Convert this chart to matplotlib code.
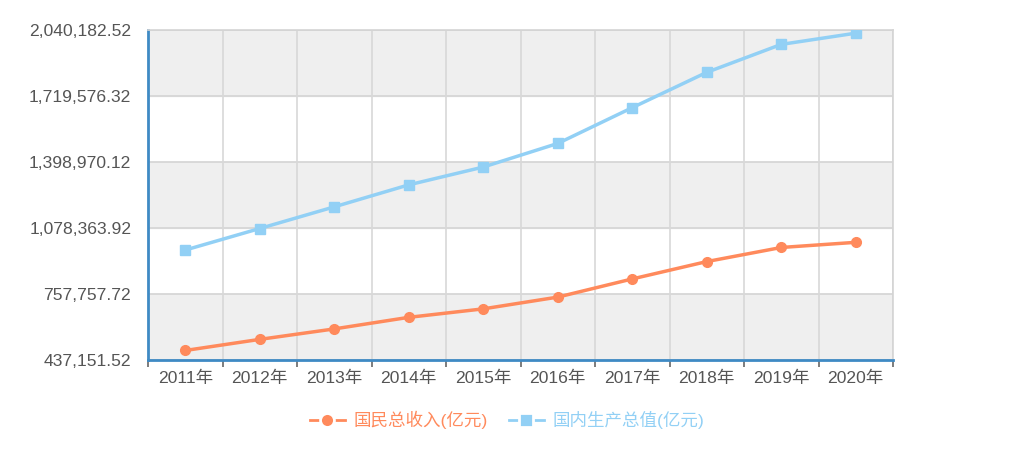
import numpy as np
import matplotlib.pyplot as plt
from matplotlib.lines import Line2D

plt.rcParams['font.family'] = ['Liberation Sans', 'Noto Sans CJK SC', 'DejaVu Sans']

years = ['2011年', '2012年', '2013年', '2014年', '2015年',
         '2016年', '2017年', '2018年', '2019年', '2020年']
gni = [483392.8, 537329.0, 588141.2, 644380.2, 685571.2,
       742694.1, 830945.7, 915243.5, 983751.2, 1008782.5]
gdp = [487940.2, 538580.0, 592963.2, 643563.1, 688858.2,
       746395.1, 832035.9, 919281.1, 986515.2, 1015986.2]
yticks = [437151.52, 757757.72, 1078363.92, 1398970.12, 1719576.32, 2040182.52]

orange = '#ff8a5c'
blue = '#92d0f5'
txt = '#555555'

# stacked lines
stack_gni = np.array(gni)
stack_gdp = stack_gni + np.array(gdp)

fig = plt.figure(figsize=(10.24, 4.51), dpi=100)
ax = fig.add_axes([148 / 1024, 1 - 360 / 451, 745 / 1024, 330 / 451])

x = np.arange(len(years))
ax.set_xlim(-0.5, len(years) - 0.5)
ax.set_ylim(yticks[0], yticks[-1])

# alternating bands
for i in range(len(yticks) - 1):
    if i % 2 == 0:
        ax.axhspan(yticks[i], yticks[i + 1], color='#efefef', zorder=0)

for y in yticks:
    ax.axhline(y, color='#d4d4d4', lw=1.2, zorder=1)
for b in np.arange(-0.5, len(years), 1):
    ax.axvline(b, color='#d8d8d8', lw=1.2, zorder=1)

ax.plot(x, stack_gni, color=orange, lw=2.5, marker='o', ms=7, zorder=3)
ax.plot(x, stack_gdp, color=blue, lw=2.5, marker='s', ms=7, zorder=3)

ax.set_yticks(yticks)
ax.set_yticklabels(['{:,.2f}'.format(v) for v in yticks], fontsize=12.6, color=txt)
ax.tick_params(axis='y', length=0, pad=12)

ax.set_xticks(x)
ax.set_xticklabels(years, fontsize=12.6, color=txt)
ax.tick_params(axis='x', which='major', length=0, pad=8)
ax.set_xticks(np.arange(-0.5, len(years), 1), minor=True)
ax.tick_params(axis='x', which='minor', length=5, width=1.2, color='#666666')

for s in ['top', 'right']:
    ax.spines[s].set_color('#d4d4d4')
    ax.spines[s].set_linewidth(1.2)
for s in ['left', 'bottom']:
    ax.spines[s].set_color('#3f8ac4')
    ax.spines[s].set_linewidth(2)

# legend keys look like "-o-": white marker edge cuts the line
handles = [
    Line2D([], [], color=orange, lw=2, marker='o', ms=10, mec='white', mew=2,
           label='国民总收入(亿元)'),
    Line2D([], [], color=blue, lw=2, marker='s', ms=10, mec='white', mew=2,
           label='国内生产总值(亿元)'),
]
leg = fig.legend(handles=handles, loc='center', bbox_to_anchor=(507 / 1024, 1 - 420 / 451),
                 ncol=2, frameon=False, fontsize=12.6, handlelength=2.0,
                 columnspacing=1.2, handletextpad=0.5)
for t, c in zip(leg.get_texts(), [orange, blue]):
    t.set_color(c)

fig.savefig('out.png', dpi=100)
